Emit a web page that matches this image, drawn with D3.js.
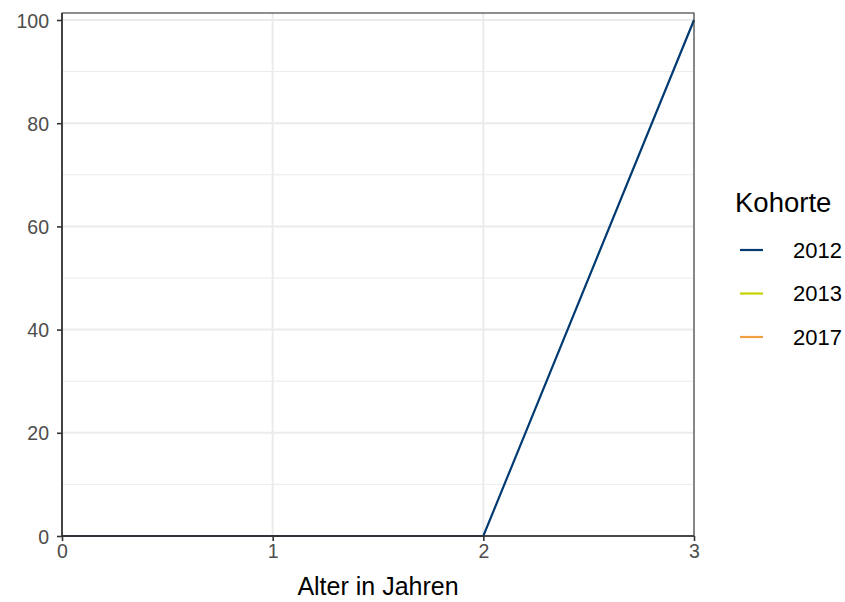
<!DOCTYPE html>
<html><head><meta charset="utf-8">
<script src="https://cdn.jsdelivr.net/npm/d3@7"></script>
<style>body{margin:0;background:#fff}svg{font-family:"Liberation Sans",Arial,sans-serif}</style>
</head><body><svg id="c" width="845" height="602"></svg>
<script>
const ages = [0, 1, 2, 3];
const cohorts = ["2012", "2013", "2017"];
const colors = ["#003a70", "#c5d300", "#f0a040"];
const values2012 = [0, 0, 0, 100];
const values2013 = [null, null, null, null];
const values2017 = [null, null, null, null];
const xTicks = [0, 1, 2, 3];
const yTicks = [0, 20, 40, 60, 80, 100];
const yMinor = [10, 30, 50, 70, 90];

const series = [values2012, values2013, values2017];
const svg = d3.select("#c");
const L = 62, R = 694, T = 13, B = 536;
const x = d3.scaleLinear().domain([0, 3]).range([L, R]);
const y = d3.scaleLinear().domain([0, 100]).range([B, 20]);
const FF = '"Liberation Sans",Arial,sans-serif';

// minor grid
svg.append("g").selectAll("line").data(yMinor).join("line")
  .attr("x1", L).attr("x2", R).attr("y1", d => y(d)).attr("y2", d => y(d))
  .attr("stroke", "#ebebeb").attr("stroke-width", 1);
// major grid
svg.append("g").selectAll("line").data(yTicks).join("line")
  .attr("x1", L).attr("x2", R).attr("y1", d => y(d)).attr("y2", d => y(d))
  .attr("stroke", "#ebebeb").attr("stroke-width", 2);
svg.append("g").selectAll("line").data(xTicks).join("line")
  .attr("x1", d => x(d)).attr("x2", d => x(d)).attr("y1", T).attr("y2", B)
  .attr("stroke", "#ebebeb").attr("stroke-width", 2);

// lines
const line = d3.line().defined(d => d[1] != null).x(d => x(d[0])).y(d => y(d[1]));
series.forEach((vals, i) => {
  svg.append("path").datum(ages.map((a, j) => [a, vals[j]]))
    .attr("d", line).attr("fill", "none").attr("stroke", colors[i]).attr("stroke-width", 2.2);
});

// panel border
svg.append("rect").attr("x", L).attr("y", T).attr("width", R - L).attr("height", B - T)
  .attr("fill", "none").attr("stroke", "#333").attr("stroke-width", 1.1);

// axes
const yAxis = svg.append("g").attr("transform", `translate(${L},0)`)
  .call(d3.axisLeft(y).tickValues(yTicks).tickFormat(d3.format("d")).tickSize(5).tickPadding(8));
const xAxis = svg.append("g").attr("transform", `translate(0,${B})`)
  .call(d3.axisBottom(x).tickValues(xTicks).tickFormat(d3.format("d")).tickSize(5).tickPadding(3));
[yAxis, xAxis].forEach(g => {
  g.attr("font-size", 19.5).attr("font-family", FF);
  g.select(".domain").attr("stroke", "#333").attr("stroke-width", 1.6);
  g.selectAll(".tick line").attr("stroke", "#333").attr("stroke-width", 1.6);
  g.selectAll("text").attr("fill", "#4d4d4d");
});
yAxis.selectAll("text").attr("dy", "0.36em");
xAxis.selectAll("text").attr("dy", "0.72em");
xAxis.select(".domain").attr("d", `M${L},0H${R}`);
yAxis.select(".domain").attr("d", `M0,${T}V${B}`);

// x title
svg.append("text").attr("x", (L + R) / 2).attr("y", 595).attr("text-anchor", "middle")
  .attr("font-size", 25).attr("fill", "#000").text("Alter in Jahren");

// legend
svg.append("text").attr("x", 735).attr("y", 212).attr("font-size", 27.5).attr("fill", "#000").text("Kohorte");
const lg = svg.append("g").selectAll("g").data(cohorts).join("g")
  .attr("transform", (d, i) => `translate(740,${250 + i * 43.5})`);
lg.append("line").attr("x1", 0).attr("x2", 23).attr("stroke", (d, i) => colors[i]).attr("stroke-width", 2.2);
lg.append("text").attr("x", 53).attr("y", 7.7).attr("font-size", 22).attr("fill", "#000").text(d => d);
</script></body></html>
